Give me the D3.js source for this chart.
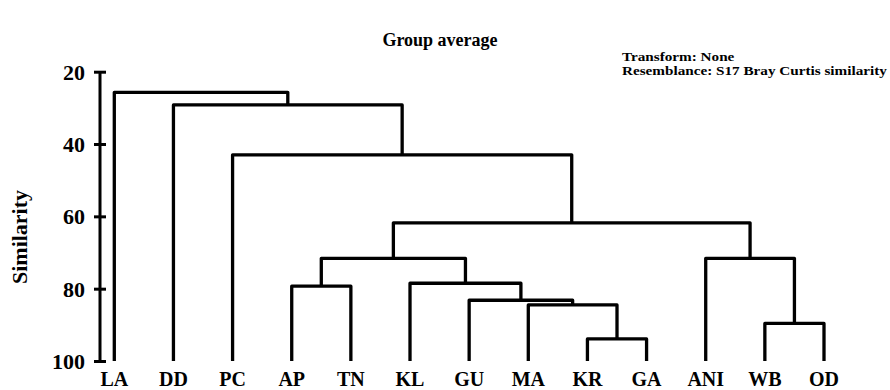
<!DOCTYPE html>
<html>
<head>
<meta charset="utf-8">
<script src="https://cdn.jsdelivr.net/npm/d3@7"></script>
<style>
  html, body { margin: 0; padding: 0; background: #fff; }
  svg { display: block; }
  text { font-family: "Liberation Serif", "Times New Roman", serif; font-weight: bold; fill: #000; }
</style>
</head>
<body>
<svg id="chart" width="890" height="390"></svg>
<script>
// ---- data ----
const leaves = ["LA", "DD", "PC", "AP", "TN", "KL", "GU", "MA", "KR", "GA", "ANI", "WB", "OD"];
// linkage: merge i creates node id 13+i from (mergeA[i], mergeB[i]) at similarity mergeSim[i]
const mergeA   = [8,  11,   7,   6,   3,   5,  17,  10,  19,  2,  1,  0];
const mergeB   = [9,  12,  13,  15,   4,  16,  18,  14,  20, 21, 22, 23];
const mergeSim = [93.9, 89.6, 84.5, 83.2, 79.3, 78.5, 71.6, 71.6, 61.8, 43.0, 29.2, 25.7];
const yTicks = [20, 40, 60, 80, 100];
const titleText = "Group average";
const noteLines = ["Transform: None", "Resemblance: S17 Bray Curtis similarity"];
const yLabel = "Similarity";

// ---- scales ----
const svg = d3.select("#chart");
const x = d3.scalePoint().domain(leaves).range([114.3, 824]);
const y = d3.scaleLinear().domain([20, 100]).range([71.7, 361]);

// node positions
const nodeX = leaves.map(l => x(l));
const nodeSim = leaves.map(() => 100);
mergeA.forEach((a, i) => {
  const b = mergeB[i];
  nodeX.push((nodeX[a] + nodeX[b]) / 2);
  nodeSim.push(mergeSim[i]);
});

// ---- dendrogram ----
const g = svg.append("g");
const paths = mergeA.map((a, i) => {
  const b = mergeB[i];
  const ym = y(mergeSim[i]);
  return `M${nodeX[a]},${y(nodeSim[a])}V${ym}H${nodeX[b]}V${y(nodeSim[b])}`;
});
g.selectAll("path.link").data(paths).join("path")
  .attr("class", "link")
  .attr("d", d => d)
  .attr("fill", "none")
  .attr("stroke", "#000")
  .attr("stroke-width", 3.3)
  .attr("stroke-linejoin", "round")
  .attr("stroke-linecap", "butt");

// leaf labels
g.selectAll("text.leaf").data(leaves).join("text")
  .attr("class", "leaf")
  .attr("x", d => x(d))
  .attr("y", 386)
  .attr("text-anchor", "middle")
  .style("font-size", "20px")
  .text(d => d);

// ---- y axis ----
const axis = d3.axisLeft(y).tickValues(yTicks).tickSize(6).tickSizeOuter(0).tickPadding(9);
const ag = svg.append("g").attr("transform", "translate(100,0)").call(axis);
ag.select(".domain").attr("stroke", "#000").attr("stroke-width", 3)
  .attr("d", `M0,${y(20)}V${y(100)}`);
ag.selectAll(".tick line").attr("x1", 6).attr("x2", -6).attr("stroke", "#000").attr("stroke-width", 3);
ag.selectAll(".tick text")
  .style("font-size", "22px")
  .style("font-family", "'Liberation Serif', 'Times New Roman', serif")
  .style("font-weight", "bold")
  .attr("fill", "#000")
  .attr("dy", "0.34em");

svg.append("text")
  .attr("transform", "translate(27,237) rotate(-90)")
  .attr("text-anchor", "middle")
  .style("font-size", "22px")
  .text(yLabel);

// ---- titles ----
svg.append("text")
  .attr("x", 440).attr("y", 46)
  .attr("text-anchor", "middle")
  .style("font-size", "18px")
  .text(titleText);

const notes = svg.append("g").attr("transform", "translate(622,0) scale(1.17,1)");
notes.selectAll("text.note").data(noteLines).join("text")
  .attr("class", "note")
  .attr("x", 0)
  .attr("y", (d, i) => 61 + i * 14)
  .style("font-size", "13px")
  .text(d => d);
</script>
</body>
</html>
